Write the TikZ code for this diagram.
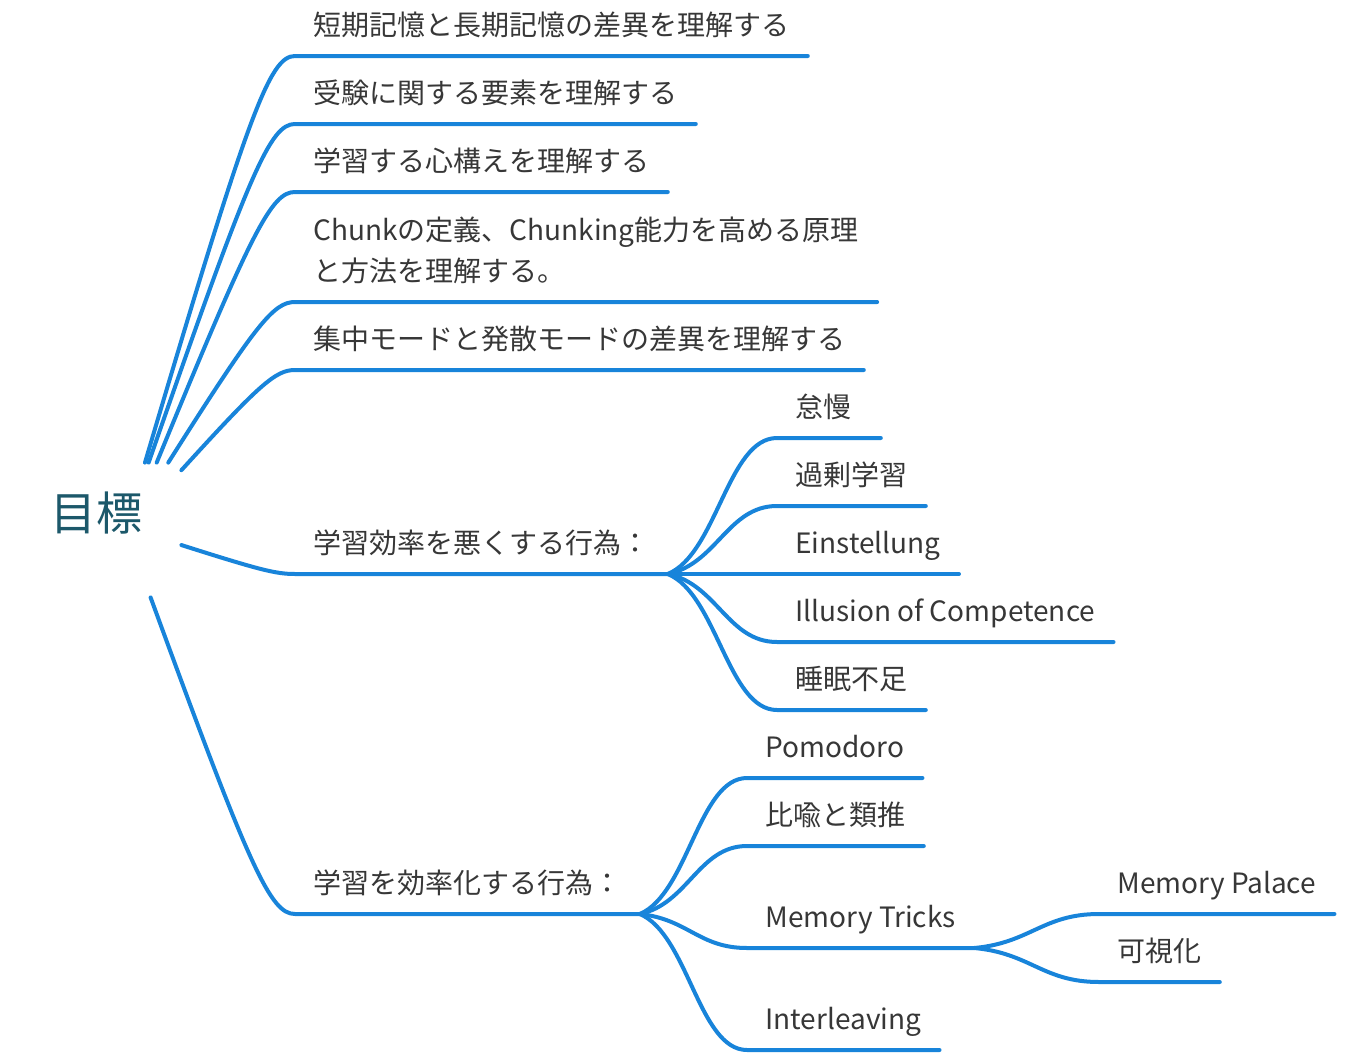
\documentclass[tikz,border=0pt]{standalone}
\usepackage{fontspec}
\newfontfamily\jpfont{Noto Sans CJK JP}
\usetikzlibrary{calc}

\definecolor{mapblue}{RGB}{24,132,218}
\definecolor{rootink}{RGB}{28,88,106}
\definecolor{topicink}{RGB}{55,55,55}

\begin{document}
\begin{tikzpicture}[x=0.5pt,y=-0.5pt,
    root/.style={inner sep=0pt,minimum width=85pt,minimum height=67pt,
        text height=20pt,text depth=20pt,text=rootink,
        font=\jpfont\fontsize{23}{27}\selectfont},
    topic/.style={anchor=south west,inner xsep=9pt,inner ysep=10pt,
        text depth=0pt,text=topicink,
        font=\jpfont\fontsize{14}{20.5}\selectfont},
    link/.style={draw=mapblue,line width=2pt,line cap=round,line join=round},
    limb/.style={to path={let \p1=(\tikztostart),\p2=(\tikztotarget) in
        .. controls ({\x1+0.69*(\x2-\x1)},{\y1+0.86*(\y2-\y1)})
        and ({\x2-0.17*(\x2-\x1)},\y2) .. (\tikztotarget)}},
    twig/.style={to path={let \p1=(\tikztostart),\p2=(\tikztotarget) in
        .. controls ({\x1+0.45*(\x2-\x1)},{\y1+0.15*(\y2-\y1)})
        and ({\x2-0.45*(\x2-\x1)},\y2) .. (\tikztotarget)}}]

    \useasboundingbox (0,0) rectangle (1350,1060);

    % centre
    \node[root] (goal) at (96,530) {目標};

    % first level
    \node[topic] (g1) at (295,56) {短期記憶と長期記憶の差異を理解する};
    \node[topic] (g2) at (295,124) {受験に関する要素を理解する};
    \node[topic] (g3) at (295,192) {学習する心構えを理解する};
    \node[topic,align=left] (g4) at (295,302) {Chunkの定義、Chunking能力を高める原理\\と方法を理解する。};
    \node[topic] (g5) at (295,370) {集中モードと発散モードの差異を理解する};
    \node[topic] (bad) at (295,574) {学習効率を悪くする行為：};
    \node[topic] (good) at (295,914) {学習を効率化する行為：};

    % bad habits
    \node[topic,text width=33.5pt] (bad1) at (777,438) {怠慢};
    \node[topic] (bad2) at (777,506) {過剰学習};
    \node[topic] (bad3) at (777,574) {Einstellung};
    \node[topic] (bad4) at (777,642) {Illusion of Competence};
    \node[topic] (bad5) at (777,710) {睡眠不足};

    % good habits
    \node[topic] (good1) at (747,778) {Pomodoro};
    \node[topic] (good2) at (747,846) {比喩と類推};
    \node[topic] (good3) at (747,948) {Memory Tricks};
    \node[topic] (good4) at (747,1050) {Interleaving};

    \node[topic] (trick1) at (1099,914) {Memory Palace};
    \node[topic] (trick2) at (1099,982) {可視化};

    % branches with their underlines
    \draw[link] (goal.54) to[limb] (g1.south west) -- (g1.south east);
    \draw[link] (goal.52) to[limb] (g2.south west) -- (g2.south east);
    \draw[link] (goal.48) to[limb] (g3.south west) -- (g3.south east);
    \draw[link] (goal.43) to[limb] (g4.south west) -- (g4.south east);
    \draw[link] (goal.35) to[limb] (g5.south west) -- (g5.south east);
    \draw[link] (goal.-10) to[limb] (bad.south west) -- (bad.south east);
    \draw[link] (goal.-51) to[limb] (good.south west) -- (good.south east);

    \foreach \leaf in {bad1,bad2,bad3,bad4,bad5}
        \draw[link] (bad.south east) to[twig] (\leaf.south west) -- (\leaf.south east);

    \foreach \leaf in {good1,good2,good3,good4}
        \draw[link] (good.south east) to[twig] (\leaf.south west) -- (\leaf.south east);

    \foreach \leaf in {trick1,trick2}
        \draw[link] (good3.south east) to[twig] (\leaf.south west) -- (\leaf.south east);

\end{tikzpicture}
\end{document}
